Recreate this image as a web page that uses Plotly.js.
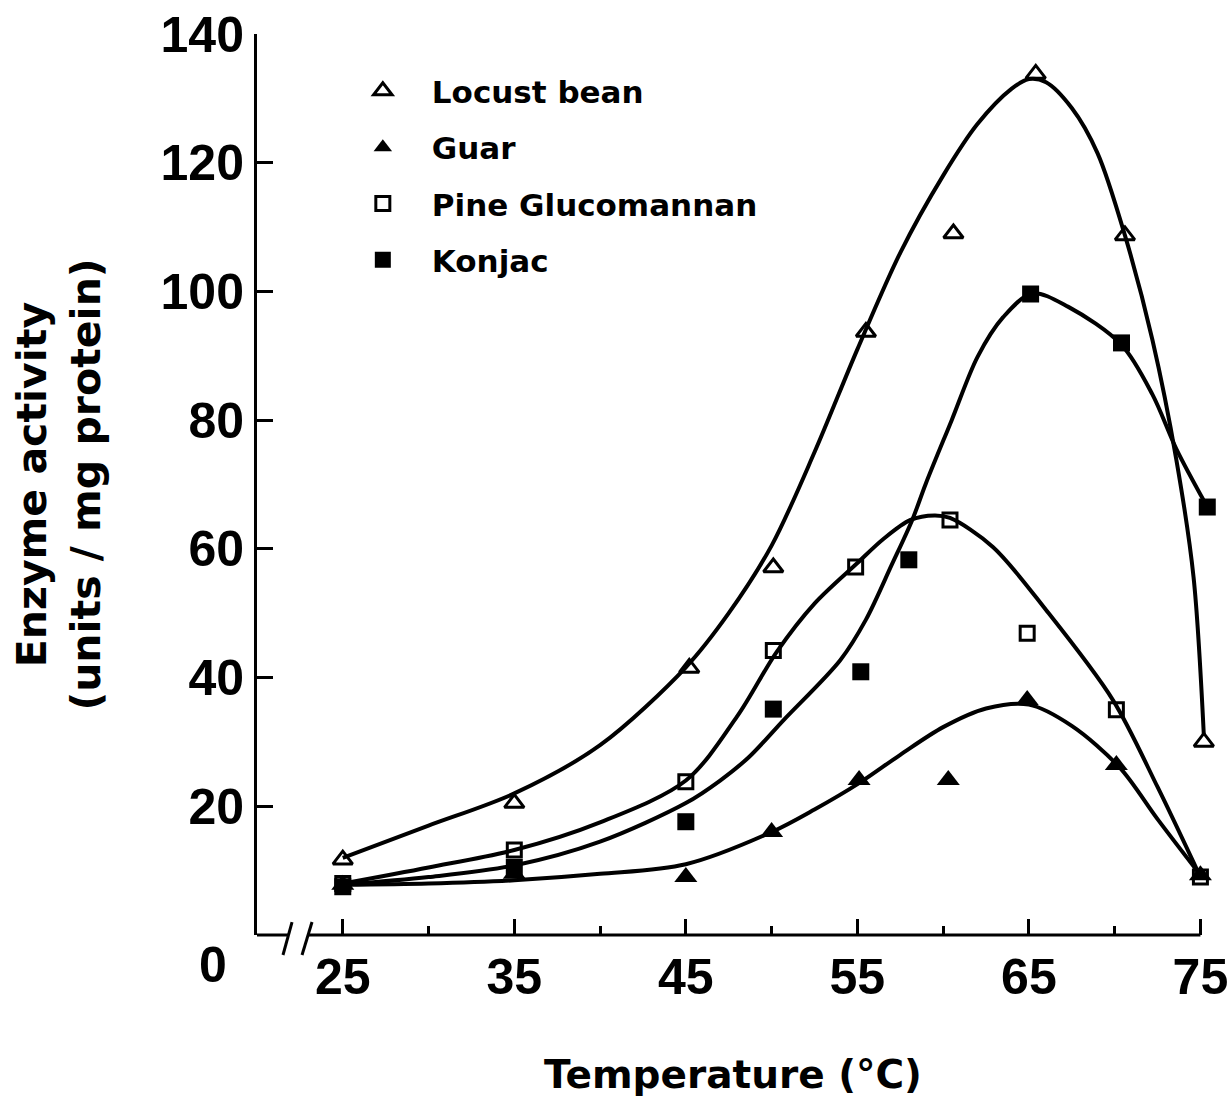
<!DOCTYPE html>
<html>
<head>
<meta charset="utf-8">
<script src="https://cdn.plot.ly/plotly-3.0.1.min.js"></script>
<style>html,body{margin:0;padding:0;background:#fff;}#chart{width:1230px;height:1105px;}</style>
</head>
<body>
<div id="chart"></div>
<script>
// ---- Data ----
const seriesNames = ["Locust bean", "Guar", "Pine Glucomannan", "Konjac"];

// measured points (temperature °C, units/mg protein)
const locustX = [25, 35, 45.2, 50.1, 55.5, 60.6, 65.4, 70.6, 75.2];
const locustY = [11.7, 20.5, 41.5, 57.1, 93.7, 109, 133.8, 108.7, 30];

const guarX = [25, 35, 45, 50, 55.1, 60.3, 64.9, 70.1, 75];
const guarY = [7.8, 9.5, 9.0, 16, 24.1, 24.1, 36.5, 26.4, 9.3];

const pineX = [25, 35, 45, 50.1, 54.9, 60.4, 64.9, 70.1, 75];
const pineY = [8.0, 13.2, 23.8, 44.2, 57.2, 64.5, 46.9, 35, 9.0];

const konjacX = [25, 35, 45, 50.1, 55.2, 58, 65.1, 70.4, 75.4];
const konjacY = [7.5, 10.5, 17.6, 35.1, 40.9, 58.3, 99.6, 92, 66.5];

// hand-drawn fitted curves
const locustCurveX = [25, 30, 35, 40, 45, 47.5, 50, 52.5, 55, 57.5, 60, 62, 64, 65, 66, 67.5, 69, 70.6, 72.2, 73.6, 74.6, 75.2];
const locustCurveY = [12, 17, 22, 29.5, 41.6, 50, 60.5, 75, 91, 106, 118, 126, 131.5, 133, 132.5, 128.5, 121.5, 108.7, 92.5, 73.8, 55.6, 31];

const guarCurveX = [25, 30, 35, 40, 45, 50, 52.5, 55.1, 57.5, 60, 62.5, 65, 67.5, 70.3, 72.5, 75];
const guarCurveY = [7.8, 8.0, 8.5, 9.5, 11, 16, 19.5, 23.6, 28, 32.3, 35.2, 35.8, 32.5, 26, 18, 9.3];

const pineCurveX = [25, 30, 35, 40, 45, 48, 50.3, 52.5, 55, 56.5, 58.1, 59.5, 60.4, 62.9, 66, 69.9, 72.5, 75];
const pineCurveY = [8, 10.5, 13.2, 17.5, 24, 34, 44, 51.5, 57.8, 61.5, 64.5, 65.2, 64.8, 60.3, 50.5, 36.5, 23, 9];

const konjacCurveX = [25, 30, 35, 40, 45, 47, 48.7, 50.7, 54, 55.5, 57, 58.2, 59, 60.5, 62, 63.5, 65.2, 67.3, 70.4, 72.2, 73.6, 75.3];
const konjacCurveY = [7.8, 9, 10.8, 14.5, 20.5, 24, 27.7, 33.4, 42.7, 49, 57.5, 64.5, 70.2, 80, 89.8, 96, 99.7, 97.6, 91.7, 84, 75.5, 67];

const xTickVals = [25, 35, 45, 55, 65, 75];
const xMinorVals = [30, 40, 50, 60, 70];
const yTickVals = [20, 40, 60, 80, 100, 120, 140];

// ---- Chart ----
const black = "#000";
const curveLine = {color: black, width: 4, shape: "spline", smoothing: 0.9};

function curve(x, y) {
  return {x: x, y: y, type: "scatter", mode: "lines", line: curveLine, showlegend: false, hoverinfo: "skip"};
}
function pts(name, x, y, marker, grp) {
  return {x: x, y: y, name: name, type: "scatter", mode: "markers", marker: marker,
          cliponaxis: false, legendgroup: grp};
}

const traces = [
  curve(locustCurveX, locustCurveY),
  curve(guarCurveX, guarCurveY),
  curve(pineCurveX, pineCurveY),
  curve(konjacCurveX, konjacCurveY),
  pts(seriesNames[0], locustX, locustY, {symbol: "triangle-up-open", size: 17, color: black, line: {width: 3, color: black}}, "a"),
  pts(seriesNames[1], guarX, guarY, {symbol: "triangle-up", size: 20, color: black}, "b"),
  pts(seriesNames[2], pineX, pineY, {symbol: "square-open", size: 14, color: black, line: {width: 3, color: black}}, "c"),
  pts(seriesNames[3], konjacX, konjacY, {symbol: "square", size: 17, color: black}, "d")
];

const tickFont = {family: "Liberation Sans, Arial, sans-serif", size: 50, color: black, weight: "bold"};
const xTitleFont = {family: "DejaVu Sans, sans-serif", size: 39, color: black, weight: "bold"};
const yTitleFont = {family: "DejaVu Sans, sans-serif", size: 41, color: black, weight: "bold"};

const xr = [20, 75.5];
function px(x) { return (x - xr[0]) / (xr[1] - xr[0]); }

const axisLine = {color: black, width: 3};
const shapes = [
  {type: "line", xref: "paper", yref: "paper", x0: 0, x1: 0.0326, y0: 0, y1: 0, line: axisLine},
  {type: "line", xref: "paper", yref: "paper", x0: 0.0536, x1: px(75), y0: 0, y1: 0, line: axisLine},
  {type: "line", xref: "paper", yref: "paper", x0: 0.0273, x1: 0.0368, y0: -0.0222, y1: 0.0144, line: axisLine},
  {type: "line", xref: "paper", yref: "paper", x0: 0.0473, x1: 0.0578, y0: -0.0222, y1: 0.0144, line: axisLine}
];

const layout = {
  width: 1230, height: 1105,
  margin: {l: 257, r: 21, t: 34, b: 170},
  paper_bgcolor: "#fff", plot_bgcolor: "#fff",
  showlegend: true,
  legend: {x: 0.0807, xanchor: "left", y: 0.9665, yanchor: "top",
           font: {family: "DejaVu Sans, sans-serif", size: 31, color: black, weight: "bold"},
           bgcolor: "rgba(0,0,0,0)", borderwidth: 0, itemwidth: 88, tracegroupgap: 13},
  xaxis: {
    range: xr, showline: false, showgrid: false, zeroline: false,
    tickmode: "array", tickvals: xTickVals, ticktext: xTickVals.map(String),
    ticks: "inside", ticklen: 16, tickwidth: 3, tickcolor: black, tickfont: tickFont,
    ticklabelstandoff: 8,
    minor: {tickmode: "array", tickvals: xMinorVals, ticks: "inside", ticklen: 9, tickwidth: 3, tickcolor: black, showgrid: false},
    title: {text: "Temperature (°C)", font: xTitleFont, standoff: 56}
  },
  yaxis: {
    range: [0, 140], showline: true, linewidth: 3, linecolor: black, showgrid: false, zeroline: false,
    tickmode: "array", tickvals: yTickVals, ticktext: yTickVals.map(String),
    ticks: "inside", ticklen: 16, tickwidth: 3, tickcolor: black, tickfont: tickFont,
    title: {text: "Enzyme activity<br>(units / mg protein)", font: yTitleFont, standoff: 48}
  },
  shapes: shapes,
  annotations: [
    {xref: "paper", yref: "y", x: -0.046, y: 0, yshift: -30, text: "0", showarrow: false,
     font: tickFont, xanchor: "center", yanchor: "middle"}
  ]
};

Plotly.newPlot("chart", traces, layout, {displayModeBar: false, staticPlot: true});
</script>
</body>
</html>
